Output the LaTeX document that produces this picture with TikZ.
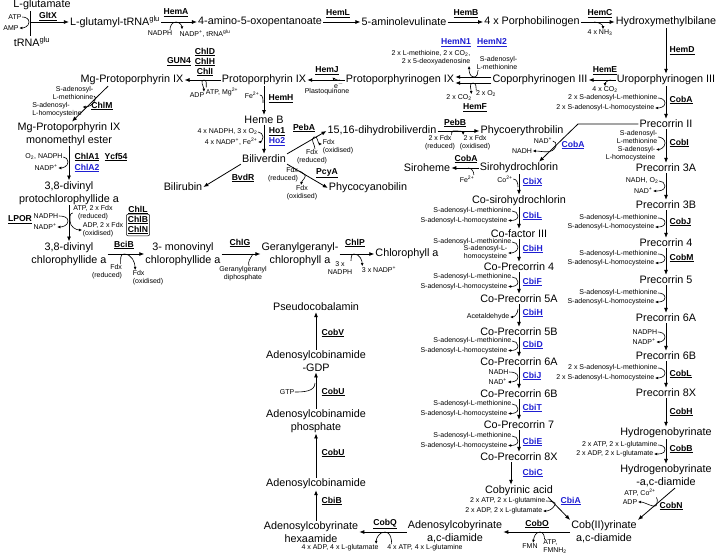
\documentclass[tikz,border=0pt]{standalone}
\usepackage{fontspec}
\setmainfont{Liberation Sans}
\usetikzlibrary{arrows.meta}
\usetikzlibrary{fit}
\definecolor{enzblue}{RGB}{30,30,210}
\tikzset{
  cmpd/.style={inner sep=1pt, align=center, font=\fontsize{10.8}{12.5}\selectfont},
  enz/.style={inner sep=0.5pt, font=\fontsize{8.6}{9}\selectfont\bfseries},
  enzb/.style={enz, text=enzblue},
  small/.style={inner sep=0.5pt, align=center, font=\fontsize{7}{7.8}\selectfont},
  arr/.style={-{Latex[length=5pt,width=4pt]}, line width=0.8pt},
  side/.style={-{Latex[length=3.2pt,width=2.8pt]}, line width=0.6pt},
  sideo/.style={line width=0.6pt}
}

\begin{document}
\begin{tikzpicture}[x=1pt,y=1pt]
  \useasboundingbox (0,0) rectangle (720,-556);

  % top row
  \node[cmpd] (glu) at (42,-5) {L-glutamate};
  \node[cmpd] (trna) at (32,-42) {tRNA\textsuperscript{glu}};
  \node[cmpd] (glutrna) at (115,-22) {L-glutamyl-tRNA\textsuperscript{glu}};
  \node[cmpd] (aop) at (260,-22) {4-amino-5-oxopentanoate};
  \node[cmpd] (ala) at (404,-22) {5-aminolevulinate};
  \node[cmpd] (pbg) at (532,-22) {4 x Porphobilinogen};
  \node[cmpd] (hmb) at (666,-22) {Hydroxymethylbilane};

  \coordinate (gx) at (30,-22);
  \draw[line width=0.8pt] (glu.south -| gx) -- (trna.north -| gx);
  \draw[arr] (gx) -- (glutrna);
  \node[enz] (gltx) at (48,-16.5) {\underline{GltX}};
  \node[small] (atp1) at (15,-17) {ATP};
  \node[small] (amp1) at (11,-28) {AMP};
  \draw[side] (atp1.east) to[out=0,in=90] (29,-22) to[out=-90,in=0] (amp1.east);

  \draw[arr] (glutrna) -- (aop);
  \node[enz] (hema) at (176,-13) {\underline{HemA}};
  \node[small] (nadph1) at (160,-33) {NADPH};
  \node[small] (nadp1) at (205,-34) {NADP\textsuperscript{+}, tRNA\textsuperscript{glu}};
  \draw[side] ([xshift=-3pt]nadph1.north east) to[out=90,in=180] (176,-22) to[out=0,in=90] ([xshift=3pt]nadp1.north west);

  \draw[arr] (aop) -- (ala);
  \node[enz] (heml) at (338,-14) {\underline{HemL}};
  \draw[arr] (ala) -- (pbg);
  \node[enz] (hemb) at (466,-14) {\underline{HemB}};
  \draw[arr] (pbg) -- (hmb);
  \node[enz] (hemc) at (600,-14) {\underline{HemC}};
  \node[small] (nh3) at (600,-33) {4 x NH\textsubscript{3}};
  \draw[side] (594,-22) to[out=0,in=90] ([xshift=3pt]nh3.north);

  % tetrapyrrole row
  \node[cmpd] (uro) at (666,-80) {Uroporphyrinogen III};
  \draw[arr] (hmb) -- (uro);
  \node[enz, anchor=west] (hemd) at (669,-51) {\underline{HemD}};

  \node[cmpd] (copro) at (540,-80) {Coporphyrinogen III};
  \draw[arr] (uro) -- (copro);
  \node[enz] (heme) at (605,-71) {\underline{HemE}};
  \node[small] (co2e) at (605,-90) {4 x CO\textsubscript{2}};
  \draw[side] (611,-80) to[out=180,in=90] (co2e.north);

  \node[cmpd] (protogen) at (400,-80) {Protoporphyrinogen IX};
  \coordinate (hn) at (0,-77);
  \coordinate (hf) at (0,-83);
  \draw[arr] (copro.west |- hn) -- (protogen.east |- hn);
  \draw[arr] (copro.west |- hf) -- (protogen.east |- hf);
  \node[enzb] (hemn1) at (456,-43) {\underline{HemN1}};
  \node[enzb] (hemn2) at (492,-43) {\underline{HemN2}};
  \node[small, align=right] (hemnout) at (431,-58) {2 x L-methioine, 2 x CO\textsubscript{2},\\2 x 5-deoxyadenosine};
  \node[small, align=right] (samn) at (497,-63) {S-adenosyl-\\L-methionine};
  \draw[side] ([xshift=2pt]samn.south west) to[out=-90,in=0] (474,-77) to[out=180,in=-90] ([xshift=-2pt]hemnout.south east);
  \node[enz] (hemf) at (475,-108) {\underline{HemF}};
  \node[small] (o2f) at (486,-94) {2 x O\textsubscript{2}};
  \node[small] (co2f) at (459,-98) {2 x CO\textsubscript{2}};
  \draw[side] ([xshift=1pt]o2f.north west) to[out=90,in=0] (473,-83) to[out=180,in=90] ([xshift=-1pt]co2f.north east);

  \node[cmpd] (protoix) at (264,-80) {Protoporphyrin IX};
  \draw[arr] (protogen) -- (protoix);
  \node[enz] (hemj) at (327,-71) {\underline{HemJ}};
  \node[small] (ehj) at (339,-85) {e\textsuperscript{$-$}};
  \node[small] (pq) at (327,-92) {Plastoquinone};
  \draw[side] (340,-80) to[out=200,in=80] (ehj.north west);

  \node[cmpd] (mgproto) at (132,-80) {Mg-Protoporphyrin IX};
  \draw[arr] (protoix) -- (mgproto);
  \node[enz] (chld) at (205,-52) {\underline{ChlD}};
  \node[enz] (chlh) at (205,-62) {\underline{ChlH}};
  \node[enz] (chli) at (205,-72) {\underline{ChlI}};
  \node[enz] (gun4) at (179,-62) {\underline{GUN4}};
  \node[small] (adp1) at (197,-95) {ADP};
  \node[small] (atpmg) at (222,-92) {ATP, Mg\textsuperscript{2+}};
  \draw[side] ([xshift=1pt]atpmg.north west) to[out=90,in=0] (204,-80) to[out=180,in=90] ([xshift=-1pt]adp1.north east);

  % chlorophyll branch
  \node[cmpd] (mgpme) at (69,-134) {Mg-Protoporphyrin IX\\monomethyl ester};
  \draw[arr] ([xshift=-24pt]mgproto.south) -- ([xshift=3pt]mgpme.north);
  \node[enz] (chlm) at (102,-106) {\underline{ChlM}};
  \node[small, align=right] (samm) at (73,-93) {S-adenosyl-\\L-methionine};
  \node[small, align=left] (sahm) at (57,-110) {S-adenosyl-\\L-homocysteine};
  \draw[side] ([yshift=-3pt]samm.east) to[out=0,in=70] (95,-100) to[out=-110,in=0] ([yshift=3pt]sahm.east);

  \node[cmpd] (dvpchl) at (69,-193) {3,8-divinyl\\protochlorophyllide a};
  \draw[arr] (mgpme) -- (dvpchl);
  \node[enz] (chla1) at (87,-157) {\underline{ChlA1}};
  \node[enz] (ycf54) at (116,-157) {\underline{Ycf54}};
  \node[enzb] (chla2) at (87,-168) {\underline{ChlA2}};
  \node[small] (o2nadph) at (44,-157) {O\textsubscript{2}, NADPH};
  \node[small] (nadp2) at (46,-168) {NADP\textsuperscript{+}};
  \draw[side] (o2nadph.east) to[out=0,in=90] (68,-162) to[out=-90,in=0] (nadp2.east);

  \node[cmpd] (dvchl) at (69,-254) {3,8-divinyl\\chlorophyllide a};
  \draw[arr] (dvpchl) -- (dvchl);
  \node[enz] (lpor) at (20,-220) {\underline{LPOR}};
  \node[small] (nadph2) at (46,-216) {NADPH};
  \node[small] (nadp3) at (45,-227) {NADP\textsuperscript{+}};
  \node[small] (atpfdx) at (93,-213) {ATP, 2 x Fdx\\(reduced)};
  \node[small, align=left] (adpfdx) at (103,-230) {ADP, 2 x Fdx\\(oxidised)};
  \draw[side] (nadph2.east) to[out=0,in=90] (68,-221) to[out=-90,in=0] (nadp3.east);
  \draw[side] (atpfdx.west) to[out=180,in=90] (70,-221) to[out=-90,in=180] (adpfdx.west);
  \node[enz] (chll) at (138,-210) {\underline{ChlL}};
  \node[enz] (chlb) at (138,-220) {\underline{ChlB}};
  \node[enz] (chln) at (138,-230) {\underline{ChlN}};
  \node[draw, rounded corners=2pt, line width=0.5pt, inner sep=1pt, fit=(chlb)(chln)] (chlbn) {};

  \node[cmpd] (mvchl) at (183,-254) {3- monovinyl\\chlorophyllide a};
  \draw[arr] (dvchl) -- (mvchl);
  \node[enz] (bcib) at (124,-245) {\underline{BciB}};
  \node[small, align=right] (fdxr1) at (107,-272) {Fdx\\(reduced)};
  \node[small, align=left] (fdxo1) at (148,-278) {Fdx\\(oxidised)};
  \draw[side] ([xshift=-2pt]fdxr1.north east) to[out=90,in=180] (124,-254) to[out=0,in=90] ([xshift=3pt]fdxo1.north west);

  \node[cmpd] (ggchl) at (300,-254) {Geranylgeranyl-\\chlorophyll a};
  \draw[arr] (mvchl) -- (ggchl);
  \node[enz] (chlg) at (240,-243) {\underline{ChlG}};
  \node[small] (ggpp) at (243,-274) {Geranylgeranyl\\diphosphate};
  \draw[sideo] ([xshift=6pt]ggpp.north) to[out=110,in=-120] (253,-254);

  \node[cmpd] (chla) at (407,-254) {Chlorophyll a};
  \draw[arr] (ggchl) -- (chla);
  \node[enz] (chlp) at (355,-243) {\underline{ChlP}};
  \node[small] (nadph3) at (340,-268) {3 x\\NADPH};
  \node[small] (nadp4) at (379,-270) {3 x NADP\textsuperscript{+}};
  \draw[side] ([xshift=-2pt]nadph3.north east) to[out=90,in=180] (354,-254) to[out=0,in=90] ([xshift=1pt]nadp4.north west);

  % heme branch
  \node[cmpd] (hemeb) at (264,-120) {Heme B};
  \draw[arr] (protoix) -- (hemeb);
  \node[enz] (hemh) at (281,-99) {\underline{HemH}};
  \node[small] (fe1) at (252,-95) {Fe\textsuperscript{2+}};
  \draw[sideo] (fe1.east) to[out=0,in=90] (263,-103);

  \node[cmpd] (bili) at (264,-159) {Biliverdin};
  \draw[arr] (hemeb) -- (bili);
  \node[enz] (ho1) at (277,-132) {\underline{Ho1}};
  \node[enzb] (ho2) at (277,-142) {\underline{Ho2}};
  \node[small, anchor=east] (nadph4) at (258,-132) {4 x NADPH, 3 x O\textsubscript{2}};
  \node[small, anchor=east] (nadp5) at (258,-142) {4 x NADP\textsuperscript{+}, Fe\textsuperscript{2+}};
  \draw[side] (nadph4.east) to[out=0,in=90] (263,-137) to[out=-90,in=0] (nadp5.east);

  \node[cmpd] (dhbv) at (382,-131) {15,16-dihydrobiliverdin};
  \draw[arr] (bili.north east) -- (dhbv.west);
  \node[enz] (peba) at (304,-128) {\underline{PebA}};
  \node[small] (fdxr2) at (312,-157) {Fdx\\(reduced)};
  \node[small, align=left] (fdxo2) at (338,-147) {Fdx\\(oxidised)};
  \draw[side] ([xshift=3pt]fdxr2.north) to[out=90,in=210] (314,-137) to[out=30,in=180] ([yshift=3pt]fdxo2.west);

  \node[cmpd] (peb) at (522,-131) {Phycoerythrobilin};
  \draw[arr] (dhbv) -- (peb);
  \node[enz] (pebb) at (455,-123) {\underline{PebB}};
  \node[small] (fdxr3) at (440,-143) {2 x Fdx\\(reduced)};
  \node[small] (fdxo3) at (475,-143) {2 x Fdx\\(oxidised)};
  \draw[side] ([xshift=-4pt]fdxr3.north east) to[out=90,in=180] (453,-131) to[out=0,in=90] ([xshift=4pt]fdxo3.north west);

  \node[cmpd] (bilir) at (183,-187) {Bilirubin};
  \draw[arr] (bili.south west) -- (bilir.east);
  \node[enz] (bvdr) at (243,-178) {\underline{BvdR}};

  \node[cmpd] (pcb) at (368,-188) {Phycocyanobilin};
  \draw[arr] (bili.south east) -- (pcb.west);
  \node[enz] (pcya) at (327,-173) {\underline{PcyA}};
  \node[small, align=right] (fdxr4) at (283,-175) {Fdx\\(reduced)};
  \node[small] (fdxo4) at (302,-193) {Fdx\\(oxidised)};
  \draw[side] ([yshift=4pt]fdxr4.east) to[out=0,in=150] (304,-174) to[out=-30,in=80] ([xshift=-1pt]fdxo4.north);

  % siroheme and cobalamin
  \node[cmpd] (precii) at (666,-124) {Precorrin II};
  \draw[arr] (uro) -- (precii);
  \node[enz, anchor=west] (coba1) at (669,-100) {\underline{CobA}};
  \node[small, anchor=east] (sam1) at (658,-98) {2 x S-adenosyl-L-methionine};
  \node[small, anchor=east] (sah1) at (655,-108) {2 x S-adenosyl-L-homocysteine};
  \draw[side] (sam1.east) to[out=0,in=90] (665,-103) to[out=-90,in=0] (sah1.east);

  \node[cmpd] (sirohyd) at (519,-168) {Sirohydrochlorin};
  \coordinate (kink) at (578,-124);
  \draw[arr] (precii.west) -- (kink) -- ([xshift=20pt]sirohyd.north);
  \node[enzb] (coba2) at (573,-145) {\underline{CobA}};
  \node[small] (nadc) at (543,-141) {NAD\textsuperscript{+}};
  \node[small] (nadhc) at (522,-151) {NADH};
  \draw[side] (nadc.east) to[out=0,in=70] (556,-146) to[out=-110,in=0] (nadhc.east);

  \node[cmpd] (sirohem) at (427,-168) {Siroheme};
  \draw[arr] (sirohyd) -- (sirohem);
  \node[enz] (coba3) at (466,-159) {\underline{CobA}};
  \node[small] (fe2) at (467,-179) {Fe\textsuperscript{2+}};
  \draw[sideo] ([xshift=-1pt]fe2.north east) to[out=90,in=0] (468,-168);

  \node[cmpd] (cosiro) at (519,-201) {Co-sirohydrochlorin};
  \draw[arr] (sirohyd) -- (cosiro);
  \node[enzb, anchor=west] (cbix) at (522,-182) {\underline{CbiX}};
  \node[small] (co2x) at (505,-179) {Co\textsuperscript{2+}};
  \draw[sideo] (co2x.east) to[out=0,in=90] (518,-187);

  \node[cmpd] (cofiii) at (519,-234) {Co-factor III};
  \node[cmpd] (copre4) at (519,-267) {Co-Precorrin 4};
  \node[cmpd] (copre5a) at (519,-299) {Co-Precorrin 5A};
  \node[cmpd] (copre5b) at (519,-332) {Co-Precorrin 5B};
  \node[cmpd] (copre6a) at (519,-362) {Co-Precorrin 6A};
  \node[cmpd] (copre6b) at (519,-394) {Co-Precorrin 6B};
  \node[cmpd] (copre7) at (519,-425) {Co-Precorrin 7};
  \node[cmpd] (copre8x) at (519,-457) {Co-Precorrin 8X};
  \node[cmpd] (cobyr) at (519,-491) {Cobyrinic acid};
  \foreach \a/\b in {cosiro/cofiii, cofiii/copre4, copre4/copre5a, copre5a/copre5b,
                     copre5b/copre6a, copre6a/copre6b, copre6b/copre7, copre7/copre8x}
    \draw[arr] (\a) -- (\b);
  \draw[arr] ([xshift=-8pt]copre8x.south) -- ([xshift=-8pt]cobyr.north);
  \foreach \n/\t/\y in {cbil/CbiL/216, cbih1/CbiH/249, cbif/CbiF/282, cbih2/CbiH/313,
                        cbid/CbiD/345, cbij/CbiJ/376, cbit/CbiT/408, cbie/CbiE/442, cbic/CbiC/473}
    \node[enzb, anchor=west] (\n) at (522,-\y) {\underline{\t}};
  \foreach \n/\y in {l/211, f/277, d/341, t/404, e/436} {
    \node[small, anchor=east] (sam\n) at (512,-\y) {S-adenosyl-L-methionine};
    \node[small, anchor=east] (sah\n) at (508,-\y-9.5) {S-adenosyl-L-homocysteine};
    \draw[side] (sam\n.east) to[out=0,in=90] (518,-\y-5) to[out=-90,in=0] (sah\n.east);
  }
  \node[small, anchor=east] (samh) at (512,-242) {S-adenosyl-L-methionine};
  \node[small, anchor=east] (sahh) at (508,-253) {S-adenosyl-L-\\homocysteine};
  \draw[side] (samh.east) to[out=0,in=90] (518,-247) to[out=-90,in=0] (sahh.east);
  \node[small, anchor=east] (acet) at (510,-317) {Acetaldehyde};
  \draw[side] (518,-309) to[out=-90,in=0] (acet.east);
  \node[small, anchor=west] (nadhj) at (488,-372) {NADH};
  \node[small, anchor=west] (nadj) at (488,-382) {NAD\textsuperscript{+}};
  \draw[side] (nadhj.east) to[out=0,in=90] (518,-377) to[out=-90,in=0] (nadj.east);

  \node[cmpd] (cob2) at (604,-532) {Cob(II)yrinate\\a,c-diamide};
  \draw[arr] ([xshift=-6pt]cobyr.south east) -- (cob2.north west);
  \node[enzb, anchor=west] (cbia) at (560,-501) {\underline{CbiA}};
  \node[small, anchor=east] (atpa) at (546,-501) {2 x ATP, 2 x L-glutamine};
  \node[small, anchor=east] (adpa) at (543,-511) {2 x ADP, 2 x L-glutamate};
  \draw[side] (atpa.east) to[out=0,in=60] (555,-505) to[out=-120,in=0] (adpa.east);

  % precorrin column
  \node[cmpd] (pre3a) at (666,-168) {Precorrin 3A};
  \node[cmpd] (pre3b) at (666,-205) {Precorrin 3B};
  \node[cmpd] (pre4) at (666,-243) {Precorrin 4};
  \node[cmpd] (pre5) at (666,-280) {Precorrin 5};
  \node[cmpd] (pre6a) at (666,-318) {Precorrin 6A};
  \node[cmpd] (pre6b) at (666,-356) {Precorrin 6B};
  \node[cmpd] (pre8x) at (666,-393) {Precorrin 8X};
  \node[cmpd] (hbyr) at (666,-433) {Hydrogenobyrinate};
  \node[cmpd] (hbyrd) at (666,-476) {Hydrogenobyrinate\\-a,c-diamide};
  \foreach \a/\b in {precii/pre3a, pre3a/pre3b, pre3b/pre4, pre4/pre5, pre5/pre6a,
                     pre6a/pre6b, pre6b/pre8x, pre8x/hbyr, hbyr/hbyrd}
    \draw[arr] (\a) -- (\b);
  \foreach \n/\t/\y in {cobi/CobI/143, cobj/CobJ/222, cobm/CobM/258, cobl/CobL/374,
                        cobh/CobH/412, cobb/CobB/449}
    \node[enz, anchor=west] (\n) at (669,-\y) {\underline{\t}};
  \node[small, align=right, anchor=east] (sami) at (658,-137) {S-adenosyl-\\L-methionine};
  \node[small, align=right, anchor=east] (sahi) at (656,-153.5) {S-adenosyl-\\L-homocysteine};
  \draw[side] (sami.east) to[out=0,in=90] (665,-143) to[out=-90,in=0] ([yshift=4pt]sahi.east);
  \node[small, anchor=east] (nadho2) at (659,-181) {NADH, O\textsubscript{2}};
  \node[small, anchor=east] (nad3) at (653,-191) {NAD\textsuperscript{+}};
  \draw[side] (nadho2.east) to[out=0,in=90] (665,-186) to[out=-90,in=0] (nad3.east);
  \foreach \n/\y in {j/218, m/254, p/293} {
    \node[small, anchor=east] (samc\n) at (658,-\y) {S-adenosyl-L-methionine};
    \node[small, anchor=east] (sahc\n) at (655,-\y-9) {S-adenosyl-L-homocysteine};
    \draw[side] (samc\n.east) to[out=0,in=90] (665,-\y-4.5) to[out=-90,in=0] (sahc\n.east);
  }
  \node[small, anchor=west] (nadph6) at (632,-332) {NADPH};
  \node[small, anchor=west] (nadp6) at (632,-342) {NADP\textsuperscript{+}};
  \draw[side] (nadph6.east) to[out=0,in=90] (665,-337) to[out=-90,in=0] (nadp6.east);
  \node[small, anchor=east] (saml2) at (658,-368) {2 x S-adenosyl-L-methionine};
  \node[small, anchor=east] (sahl2) at (655,-378) {2 x S-adenosyl-L-homocysteine};
  \draw[side] (saml2.east) to[out=0,in=90] (665,-373) to[out=-90,in=0] (sahl2.east);
  \node[small, anchor=east] (atpb) at (658,-445) {2 x ATP, 2 x L-glutamine};
  \node[small, anchor=east] (adpb) at (654,-454) {2 x ADP, 2 x L-glutamate};
  \draw[side] (atpb.east) to[out=0,in=90] (665,-449.5) to[out=-90,in=0] (adpb.east);

  \draw[arr] ([xshift=9pt]hbyrd.south) -- (cob2.north east);
  \node[enz, anchor=west] (cobn) at (659,-506) {\underline{CobN}};
  \node[small] (atpco) at (640,-493) {ATP, Co\textsuperscript{2+}};
  \node[small] (adpn) at (630,-502) {ADP};
  \draw[side] (atpco.south east) to[out=-30,in=90] (657,-503) to[out=-90,in=0] (adpn.east);

  % bottom row
  \node[cmpd] (adocbyr) at (455,-532) {Adenosylcobyrinate\\a,c-diamide};
  \draw[arr] (cob2) -- (adocbyr);
  \node[enz] (cobo) at (537,-524) {\underline{CobO}};
  \node[small] (fmn) at (530,-546) {FMN};
  \node[small, align=left] (atpf) at (555,-547) {ATP,\\FMNH\textsubscript{2}};
  \draw[side] ([xshift=2pt]atpf.north west) to[out=90,in=0] (540,-532) to[out=180,in=80] ([xshift=3pt]fmn.north);

  \node[cmpd] (adocbyrh) at (311,-532) {Adenosylcobyrinate\\hexaamide};
  \draw[arr] (adocbyr) -- (adocbyrh);
  \node[enz] (cobq) at (385,-524) {\underline{CobQ}};
  \node[small] (adpq) at (340,-548) {4 x ADP, 4 x L-glutamate};
  \node[small] (atpq) at (425,-548) {4 x ATP, 4 x L-glutamine};
  \draw[side] ([xshift=5pt]atpq.north west) to[out=90,in=0] (385,-532) to[out=180,in=90] ([xshift=-3pt]adpq.north east);

  \coordinate (bx) at (316,0);
  \node[cmpd] (adocbi) at (316,-484) {Adenosylcobinamide};
  \node[cmpd] (adocbip) at (316,-421) {Adenosylcobinamide\\phosphate};
  \node[cmpd] (adocbigdp) at (316,-361) {Adenosylcobinamide\\-GDP};
  \node[cmpd] (pseudo) at (316,-307) {Pseudocobalamin};
  \draw[arr] (adocbyrh.north -| bx) -- (adocbi);
  \draw[arr] (adocbi) -- (adocbip);
  \draw[arr] (adocbip) -- (adocbigdp);
  \draw[arr] (adocbigdp) -- (pseudo);
  \node[enz, anchor=west] (cbib) at (321,-501) {\underline{CbiB}};
  \node[enz, anchor=west] (cobu1) at (321,-453) {\underline{CobU}};
  \node[enz, anchor=west] (cobu2) at (321,-392) {\underline{CobU}};
  \node[enz, anchor=west] (cobv) at (321,-333) {\underline{CobV}};
  \node[small] (gtp) at (287,-392) {GTP};
  \draw[sideo] (gtp.east) to[out=0,in=-90] (315,-383);

\end{tikzpicture}
\end{document}
